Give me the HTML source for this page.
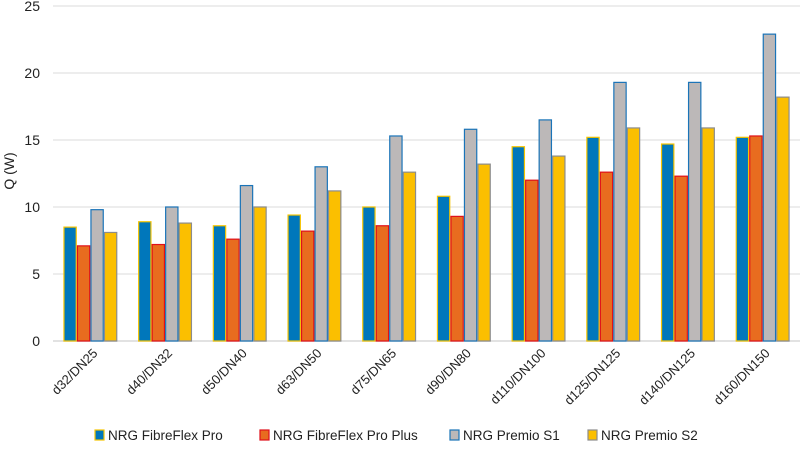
<!DOCTYPE html>
<html><head><meta charset="utf-8"><style>
body{margin:0;background:#fff;font-family:"Liberation Sans",sans-serif;}
svg text{font-family:"Liberation Sans",sans-serif;fill:#222;}
</style></head><body>
<svg id="chart" width="800" height="444" viewBox="0 0 800 444" xmlns="http://www.w3.org/2000/svg"></svg>
<script>
const categories=["d32/DN25","d40/DN32","d50/DN40","d63/DN50","d75/DN65","d90/DN80","d110/DN100","d125/DN125","d140/DN125","d160/DN150"];
const seriesNames=["NRG FibreFlex Pro","NRG FibreFlex Pro Plus","NRG Premio S1","NRG Premio S2"];
const fibreFlexPro=[8.5,8.9,8.6,9.4,10,10.8,14.5,15.2,14.7,15.2];
const fibreFlexProPlus=[7.1,7.2,7.6,8.2,8.6,9.3,12,12.6,12.3,15.3];
const premioS1=[9.8,10,11.6,13,15.3,15.8,16.5,19.3,19.3,22.9];
const premioS2=[8.1,8.8,10,11.2,12.6,13.2,13.8,15.9,15.9,18.2];
const yTicks=[0,5,10,15,20,25];
const series=[fibreFlexPro,fibreFlexProPlus,premioS1,premioS2];
const fills=["#0077bb","#e86c1f","#bcb8b8","#fbbf00"];
const strokes=["#f5c400","#e0101a","#1a74b8","#8c8c8c"];
const NS="http://www.w3.org/2000/svg";
const svg=document.getElementById("chart");
const x0=53,x1=800,y0=341,yTop=6,yMax=25;
const y=v=>y0-(v/yMax)*(y0-yTop);
const cw=(x1-x0)/categories.length;
const bw=13.5;
function el(t,a){const e=document.createElementNS(NS,t);for(const k in a)e.setAttribute(k,a[k]);svg.appendChild(e);return e;}
yTicks.forEach(t=>{
  const g=el("line",{x1:x0,x2:x1,y1:y(t),y2:y(t),stroke:"#e2e2e2","stroke-width":t===0?2:1.3});
  
  
  const l=el("text",{x:40,y:y(t)+5,"text-anchor":"end","font-size":"14"});
  l.textContent=t;
  
  
});
const yt=el("text",{transform:"translate(14,171) rotate(-90)","text-anchor":"middle","font-size":"14"});
yt.textContent="Q (W)";


categories.forEach((c,i)=>{
  const cx=x0+cw*(i+0.5);
  series.forEach((s,j)=>{
    const bx=cx-2*bw+j*bw;
    const r=el("rect",{x:bx+0.6,y:y(s[i]),width:bw-1.2,height:y0-y(s[i]),fill:fills[j],stroke:strokes[j],"stroke-width":1.2});
    
    
  });
  const t=el("text",{transform:`translate(${cx+8},354) rotate(-45)`,"text-anchor":"end","font-size":"13"});
  t.textContent=c;
  
  
});
const lx=[95,260,450,588];
seriesNames.forEach((n,j)=>{
  const r=el("rect",{x:lx[j],y:430,width:9,height:10,fill:fills[j],stroke:strokes[j],"stroke-width":1.2});
  
  
  const t=el("text",{x:lx[j]+13,y:440,"font-size":"13.5"});
  t.textContent=n;
  
  
});
</script>
</body></html>
